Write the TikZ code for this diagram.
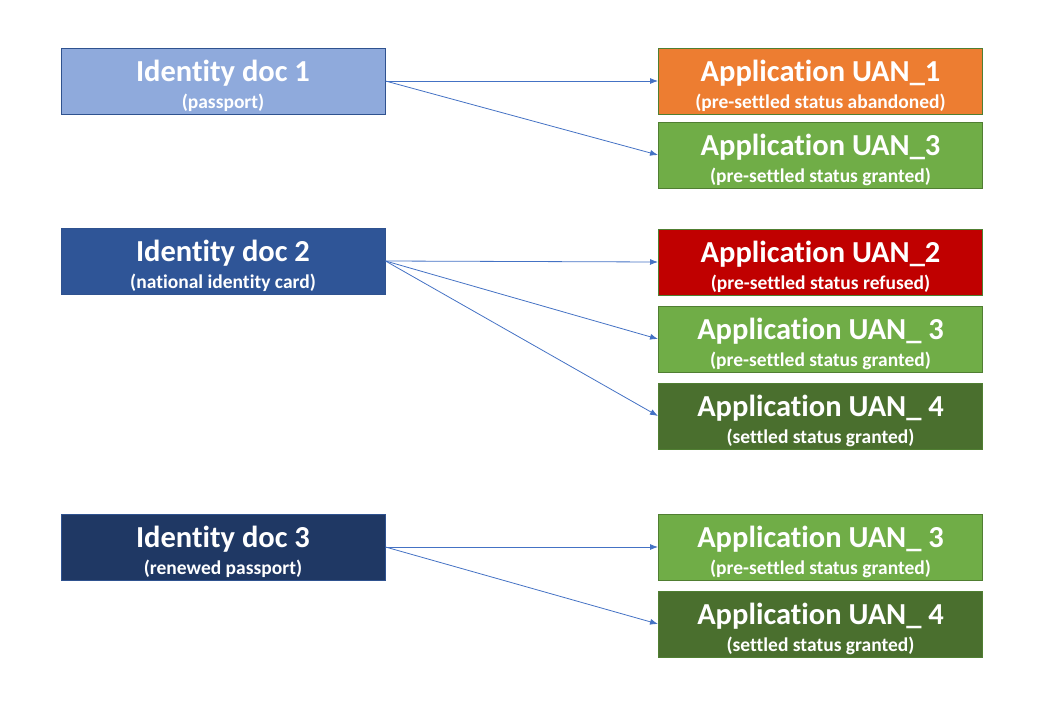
\documentclass[tikz,border=0pt]{standalone}
\usepackage{fontspec}
\setmainfont[Ligatures={NoCommon,NoRequired,NoContextual}]{Carlito}
\usetikzlibrary{arrows.meta}
\definecolor{docA}{HTML}{8FAADC}
\definecolor{docB}{HTML}{2F5597}
\definecolor{docC}{HTML}{1F3864}
\definecolor{docBorder}{HTML}{2F528F}
\definecolor{appOrange}{HTML}{ED7D31}
\definecolor{appGreen}{HTML}{70AD47}
\definecolor{appRed}{HTML}{C00000}
\definecolor{appDark}{HTML}{4A6F2E}
\definecolor{appBorder}{HTML}{507E32}
\definecolor{linkBlue}{HTML}{4472C4}
\tikzset{
  box/.style={draw, line width=1pt, minimum width=324pt, minimum height=66pt, inner sep=0pt,
    text=white, align=center, font=\bfseries},
  docbox/.style={box, draw=docBorder},
  appbox/.style={box, draw=appBorder},
  link/.style={draw=linkBlue, line width=0.8pt, -{Latex[length=8pt,width=6pt]}}
}
\newcommand{\boxtext}[2]{{\fontsize{30.5}{31}\selectfont\rule{0pt}{31pt}#1}\\[7pt]{\fontsize{19.5}{20}\selectfont #2}}
\begin{document}
\begin{tikzpicture}[x=1pt,y=-1pt]
\useasboundingbox (0,0) rectangle (1055,704);
\node[docbox, fill=docA] (d1) at (223,81) {\boxtext{Identity doc 1}{(passport)}};
\node[docbox, fill=docB] (d2) at (223,261) {\boxtext{Identity doc 2}{(national identity card)}};
\node[docbox, fill=docC] (d3) at (223,547) {\boxtext{Identity doc 3}{(renewed passport)}};
\node[appbox, fill=appOrange] (a1) at (820.5,81) {\boxtext{Application UAN\_1}{(pre-settled status abandoned)}};
\node[appbox, fill=appGreen] (a3) at (820.5,155) {\boxtext{Application UAN\_3}{(pre-settled status granted)}};
\node[appbox, fill=appRed] (b2) at (820.5,262) {\boxtext{Application UAN\_2}{(pre-settled status refused)}};
\node[appbox, fill=appGreen] (b3) at (820.5,339) {\boxtext{Application UAN\_ 3}{(pre-settled status granted)}};
\node[appbox, fill=appDark] (b4) at (820.5,416) {\boxtext{Application UAN\_ 4}{(settled status granted)}};
\node[appbox, fill=appGreen] (c3) at (820.5,547) {\boxtext{Application UAN\_ 3}{(pre-settled status granted)}};
\node[appbox, fill=appDark] (c4) at (820.5,624) {\boxtext{Application UAN\_ 4}{(settled status granted)}};
\draw[link] (d1.east) -- (a1.west);
\draw[link] (d1.east) -- (a3.west);
\draw[link] (d2.east) -- (b2.west);
\draw[link] (d2.east) -- (b3.west);
\draw[link] (d2.east) -- (b4.west);
\draw[link] (d3.east) -- (c3.west);
\draw[link] (d3.east) -- (c4.west);
\end{tikzpicture}
\end{document}
